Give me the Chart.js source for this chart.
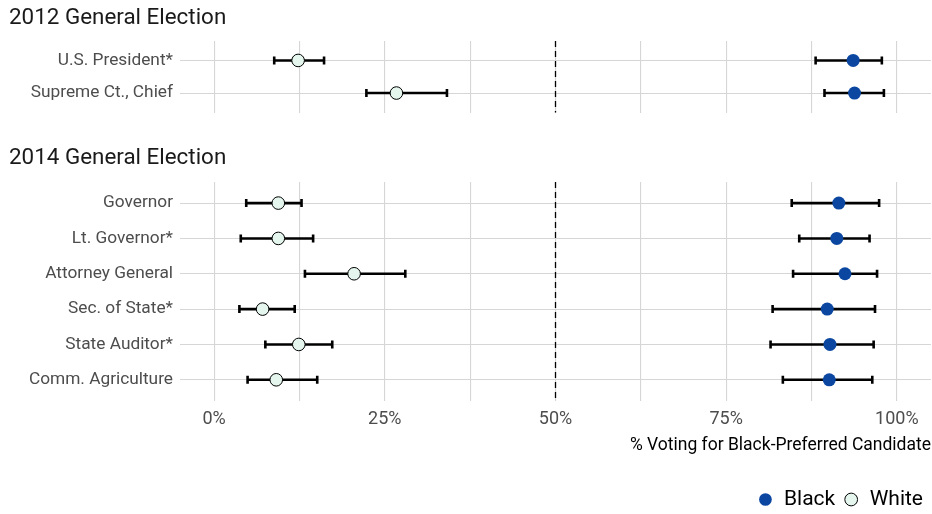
<!DOCTYPE html>
<html>
<head>
<meta charset="utf-8">
<script src="https://cdn.jsdelivr.net/npm/chart.js@4/dist/chart.umd.min.js"></script>
<style>
  html, body { margin: 0; padding: 0; background: #fff; width: 932px; height: 514px; overflow: hidden; }
  canvas { position: absolute; left: 0; }
  #c2012 { top: 0; }
  #c2014 { top: 140px; }
</style>
</head>
<body>
<canvas id="c2012" width="932" height="130"></canvas>
<canvas id="c2014" width="932" height="380"></canvas>
<script>
// Races by election year
const races2012 = ['U.S. President*', 'Supreme Ct., Chief'];
const races2014 = ['Governor', 'Lt. Governor*', 'Attorney General', 'Sec. of State*', 'State Auditor*', 'Comm. Agriculture'];

// Estimated % voting for the Black-preferred candidate, with interval bounds
const black2012   = [93.6, 93.8];
const black2012Lo = [88.1, 89.4];
const black2012Hi = [97.8, 98.1];
const white2012   = [12.3, 26.7];
const white2012Lo = [8.8, 22.3];
const white2012Hi = [16.1, 34.1];

const black2014   = [91.5, 91.2, 92.4, 89.8, 90.2, 90.1];
const black2014Lo = [84.6, 85.7, 84.8, 81.8, 81.5, 83.3];
const black2014Hi = [97.4, 96.0, 97.1, 96.8, 96.6, 96.4];
const white2014   = [9.4, 9.4, 20.5, 7.1, 12.4, 9.1];
const white2014Lo = [4.7, 3.9, 13.3, 3.7, 7.5, 4.9];
const white2014Hi = [12.8, 14.5, 28.0, 11.8, 17.3, 15.1];

// Axis ticks (percent)
const xTicks = [0, 12.5, 25, 37.5, 50, 62.5, 75, 87.5, 100];
const xLabelled = [0, 25, 50, 75, 100];
const referenceLine = 50;

Chart.defaults.font.family = 'Roboto, "Liberation Sans", sans-serif';
Chart.defaults.animation = false;

const BLUE = '#0b47a1';
const MINT = '#e4f6ee';
const GRID = '#d6d6d6';

// Horizontal interval whiskers and the dashed 50% line, drawn beneath the points
const intervalPlugin = {
  id: 'intervals',
  beforeDatasetsDraw(chart) {
    const {ctx, chartArea, scales: {x, y}} = chart;
    ctx.save();
    // dashed reference line
    const rx = x.getPixelForValue(referenceLine);
    ctx.strokeStyle = '#000';
    ctx.lineWidth = 1.3;
    ctx.setLineDash([6, 4]);
    ctx.beginPath();
    ctx.moveTo(rx, chartArea.top);
    ctx.lineTo(rx, chartArea.bottom);
    ctx.stroke();
    ctx.setLineDash([]);
    // whiskers
    ctx.lineWidth = 2.6;
    ctx.lineCap = 'butt';
    chart.data.datasets.forEach(ds => {
      ds.data.forEach((p, i) => {
        const py = y.getPixelForValue(p.y);
        const x0 = x.getPixelForValue(ds.lo[i]);
        const x1 = x.getPixelForValue(ds.hi[i]);
        ctx.beginPath();
        ctx.moveTo(x0, py); ctx.lineTo(x1, py);
        ctx.moveTo(x0, py - 4); ctx.lineTo(x0, py + 4);
        ctx.moveTo(x1, py - 4); ctx.lineTo(x1, py + 4);
        ctx.stroke();
      });
    });
    ctx.restore();
  }
};

function points(values) {
  return values.map((v, i) => ({x: v, y: i}));
}

function makeChart(id, title, races, b, bLo, bHi, w, wLo, wHi, isBottom) {
  const n = races.length;
  return new Chart(document.getElementById(id), {
    type: 'scatter',
    data: {
      datasets: [
        {
          label: 'Black', data: points(b), lo: bLo, hi: bHi,
          pointRadius: 6.5, pointHoverRadius: 6.5,
          pointBackgroundColor: BLUE, pointBorderColor: BLUE, pointBorderWidth: 0,
          backgroundColor: BLUE, borderColor: BLUE
        },
        {
          label: 'White', data: points(w), lo: wLo, hi: wHi,
          pointRadius: 6.3, pointHoverRadius: 6.3,
          pointBackgroundColor: MINT, pointBorderColor: '#000', pointBorderWidth: 1,
          backgroundColor: MINT, borderColor: '#000'
        }
      ]
    },
    options: {
      responsive: false,
      devicePixelRatio: 1,
      layout: { autoPadding: false, padding: { left: 9, right: 1, top: 0, bottom: 0 } },
      plugins: {
        tooltip: { enabled: false },
        title: {
          display: true, text: title, align: 'start', color: '#1a1a1a',
          font: { size: 22.4, weight: 'normal' },
          padding: { top: 4.6, bottom: isBottom ? 10.4 : 9.4 }
        },
        legend: {
          display: isBottom, position: 'bottom', align: 'end',
          labels: {
            usePointStyle: true, pointStyle: 'circle',
            boxWidth: 16, boxHeight: 9, padding: 8,
            color: '#000', font: { size: 21 }
          }
        }
      },
      scales: {
        x: {
          type: 'linear', min: -5, max: 105,
          afterBuildTicks: s => { s.ticks = xTicks.map(v => ({value: v})); },
          afterFit: s => { s.height = isBottom ? 80 : 0; },
          grid: { color: GRID, lineWidth: 1.1, drawTicks: false },
          border: { display: false },
          ticks: {
            display: isBottom, autoSkip: false, maxRotation: 0, padding: 7.5,
            color: '#4d4d4d', font: { size: 18 },
            callback: v => xLabelled.includes(v) ? v + '%' : ''
          },
          title: {
            display: isBottom, text: '% Voting for Black-Preferred Candidate',
            align: 'end', color: '#000', font: { size: 17.5 },
            padding: { top: 0, bottom: 25 }
          }
        },
        y: {
          type: 'linear', reverse: true, min: -0.6, max: n - 0.4,
          afterBuildTicks: s => { s.ticks = races.map((r, i) => ({value: i})); },
          afterFit: s => { s.width = 171; },
          grid: { color: GRID, lineWidth: 1.1, drawTicks: false },
          border: { display: false },
          ticks: {
            autoSkip: false, padding: 7, color: '#4d4d4d', font: { size: 17.3 },
            callback: v => races[v]
          }
        }
      }
    },
    plugins: [intervalPlugin]
  });
}

makeChart('c2012', '2012 General Election', races2012,
  black2012, black2012Lo, black2012Hi, white2012, white2012Lo, white2012Hi, false);
makeChart('c2014', '2014 General Election', races2014,
  black2014, black2014Lo, black2014Hi, white2014, white2014Lo, white2014Hi, true);
</script>
</body>
</html>
